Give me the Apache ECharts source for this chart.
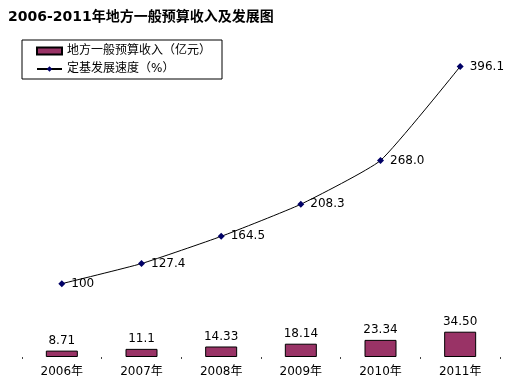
<!DOCTYPE html>
<html><head><meta charset="utf-8">
<script src="https://cdn.jsdelivr.net/npm/echarts@6/dist/echarts.min.js"></script>
<style>html,body{margin:0;padding:0;background:#fff}#c{width:508px;height:383px}</style>
</head><body><div id="c"></div>
<script>
const categories = ['2006年','2007年','2008年','2009年','2010年','2011年'];
const revenue = [8.71, 11.1, 14.33, 18.14, 23.34, 34.50];
const revenueLabels = ['8.71','11.1','14.33','18.14','23.34','34.50'];
const growth = [100, 127.4, 164.5, 208.3, 268.0, 396.1];
const growthLabels = ['100','127.4','164.5','208.3','268.0','396.1'];
const titleText = '2006-2011年地方一般预算收入及发展图';
const seriesNames = ['地方一般预算收入（亿元）','定基发展速度（%）'];

const FF = '"DejaVu Sans","Noto Sans CJK SC",sans-serif';
const chart = echarts.init(document.getElementById('c'), null, {renderer:'canvas'});
chart.setOption({
  animation:false,
  backgroundColor:'#fff',
  title:{text:titleText,left:3,top:5,textStyle:{fontFamily:FF,fontSize:14,fontWeight:'bold',color:'#000'}},
  legend:{
    orient:'vertical',left:22,top:40,
    borderColor:'#000',borderWidth:1,borderRadius:0,
    padding:[5,11,4,14],itemGap:6,itemWidth:25,itemHeight:7,
    textStyle:{fontFamily:FF,fontSize:12,color:'#000'},
    data:[{name:seriesNames[0],icon:'rect'},{name:seriesNames[1]}]
  },
  grid:{left:22,right:8,top:49,bottom:26},
  xAxis:{type:'category',data:categories,
    axisLine:{show:false},
    axisTick:{show:true,length:2,lineStyle:{color:'#444'}},
    axisLabel:{fontFamily:FF,fontSize:12,color:'#000',margin:9}},
  yAxis:{type:'value',min:0,max:420,show:false,splitLine:{show:false}},
  series:[
    {name:seriesNames[0],type:'bar',data:revenue,barWidth:32,
      itemStyle:{color:'#993366',borderColor:'#000',borderWidth:1},
      label:{show:true,position:'top',distance:4,fontFamily:FF,fontSize:12,color:'#000',
        formatter:p=>revenueLabels[p.dataIndex]}},
    {name:seriesNames[1],type:'line',data:growth,smooth:0.15,
      symbol:'diamond',symbolSize:7,
      lineStyle:{color:'#000',width:1},
      itemStyle:{color:'#000066'},
      label:{show:true,position:'right',distance:6,fontFamily:FF,fontSize:12,color:'#000',
        formatter:p=>growthLabels[p.dataIndex]}}
  ]
});
</script></body></html>
